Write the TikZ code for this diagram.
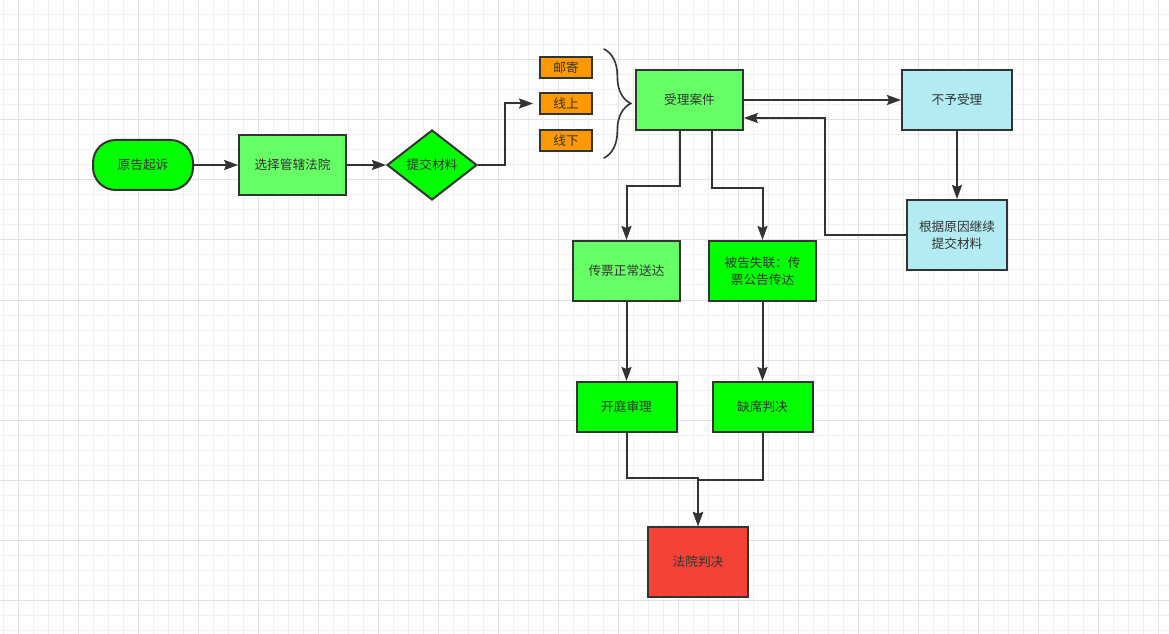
\documentclass[tikz,border=0pt]{standalone}
\usepackage{fontspec}
\newfontfamily\cjk{Noto Sans CJK SC}
\usetikzlibrary{shapes.geometric,arrows.meta,decorations.pathreplacing}

\definecolor{brightgreen}{HTML}{00FF00}
\definecolor{lightgreen}{HTML}{66FF66}
\definecolor{mailorange}{HTML}{FF9900}
\definecolor{rejectblue}{HTML}{B2EBF2}
\definecolor{verdictred}{HTML}{F44336}
\definecolor{ink}{HTML}{333333}
\definecolor{gridlight}{HTML}{F0F0F0}
\definecolor{griddark}{HTML}{E2E2E2}

\tikzstyle{box}=[rectangle,draw=ink,line width=1.5pt,text=ink,inner sep=0pt,align=center,font=\cjk\fontsize{9.5}{12.5}\selectfont]
\tikzstyle{start}=[box,fill=brightgreen,rounded corners=17pt,minimum width=75pt,minimum height=37.5pt]
\tikzstyle{step80}=[box,minimum width=80pt,minimum height=45pt]
\tikzstyle{step75}=[box,minimum width=75pt,minimum height=37.5pt]
\tikzstyle{tall75}=[box,minimum width=75pt,minimum height=52.5pt]
\tikzstyle{choice}=[box,diamond,fill=brightgreen,minimum width=67.5pt,minimum height=52.5pt]
\tikzstyle{channel}=[box,fill=mailorange,minimum width=39pt,minimum height=15.75pt]
\tikzstyle{link}=[draw=ink,line width=1.5pt,-{Stealth[length=10.5pt,width=7.5pt,inset=1.5pt]}]
\tikzstyle{gridline}=[-,line width=0.75pt]

\begin{document}
\begin{tikzpicture}[x=0.75pt, y=-0.75pt]
	\useasboundingbox (0,0) rectangle (1169,634);
	% background grid
	\foreach \i in {0,...,77} \draw[gridline,gridlight] (3+15*\i,0) -- (3+15*\i,634);
	\foreach \i in {0,...,42} \draw[gridline,gridlight] (0,15*\i) -- (1169,15*\i);
	\foreach \i in {0,...,19} \draw[gridline,griddark] (18+60*\i,0) -- (18+60*\i,634);
	\foreach \i in {0,...,10} \draw[gridline,griddark] (0,60*\i) -- (1169,60*\i);

	\node [start]                      (sue)      at (143,165)   {原告起诉};
	\node [step80,fill=lightgreen]     (court)    at (292.5,165) {选择管辖法院};
	\node [choice]                     (submit)   at (432,165)   {提交材料};
	\node [channel]                    (post)     at (566,67.5)  {邮寄};
	\node [channel]                    (online)   at (566,103.5) {线上};
	\node [channel]                    (offline)  at (566,141)   {线下};
	\node [step80,fill=lightgreen]     (accept)   at (689.5,100) {受理案件};
	\node [step80,fill=rejectblue,minimum width=82.5pt] (reject) at (957,100) {不予受理};
	\node [tall75,fill=rejectblue]     (resubmit) at (957,235)   {根据原因继续\\提交材料};
	\node [step80,fill=lightgreen]     (normal)   at (626.5,271) {传票正常送达};
	\node [step80,fill=brightgreen]    (lost)     at (762.5,271) {被告失联：传\\票公告传达};
	\node [step75,fill=brightgreen]    (trial)    at (626.5,407) {开庭审理};
	\node [step75,fill=brightgreen]    (absent)   at (762.5,407) {缺席判决};
	\node [tall75,fill=verdictred]     (verdict)  at (698,562)   {法院判决};

	\draw [draw=ink,line width=1.2pt,line cap=round,decorate,decoration={brace,amplitude=20}] (604,49) -- (604,158);

	\draw [link] (sue) -- (court);
	\draw [link] (court) -- (submit);
	\draw [link,shorten >=4.5pt] (submit.east) -- ++(27,0) |- (online.west);
	\draw [link] (accept) -- (reject);
	\draw [link] (reject) -- (resubmit);
	\draw [link] (resubmit.west) -- ++(-81,0) |- ([yshift=-13.5pt]accept.east);
	\draw [link] ([xshift=-7.5pt]accept.south) -- ++(0,55) -| (normal.north);
	\draw [link] ([xshift=16.5pt]accept.south) -- ++(0,57) -| (lost.north);
	\draw [link] (normal) -- (trial);
	\draw [link] (lost) -- (absent);
	\draw [link] (trial.south) -- ++(0,45) -| (verdict.north);
	\draw [link] (absent.south) -- ++(0,47) -| (verdict.north);
\end{tikzpicture}
\end{document}
